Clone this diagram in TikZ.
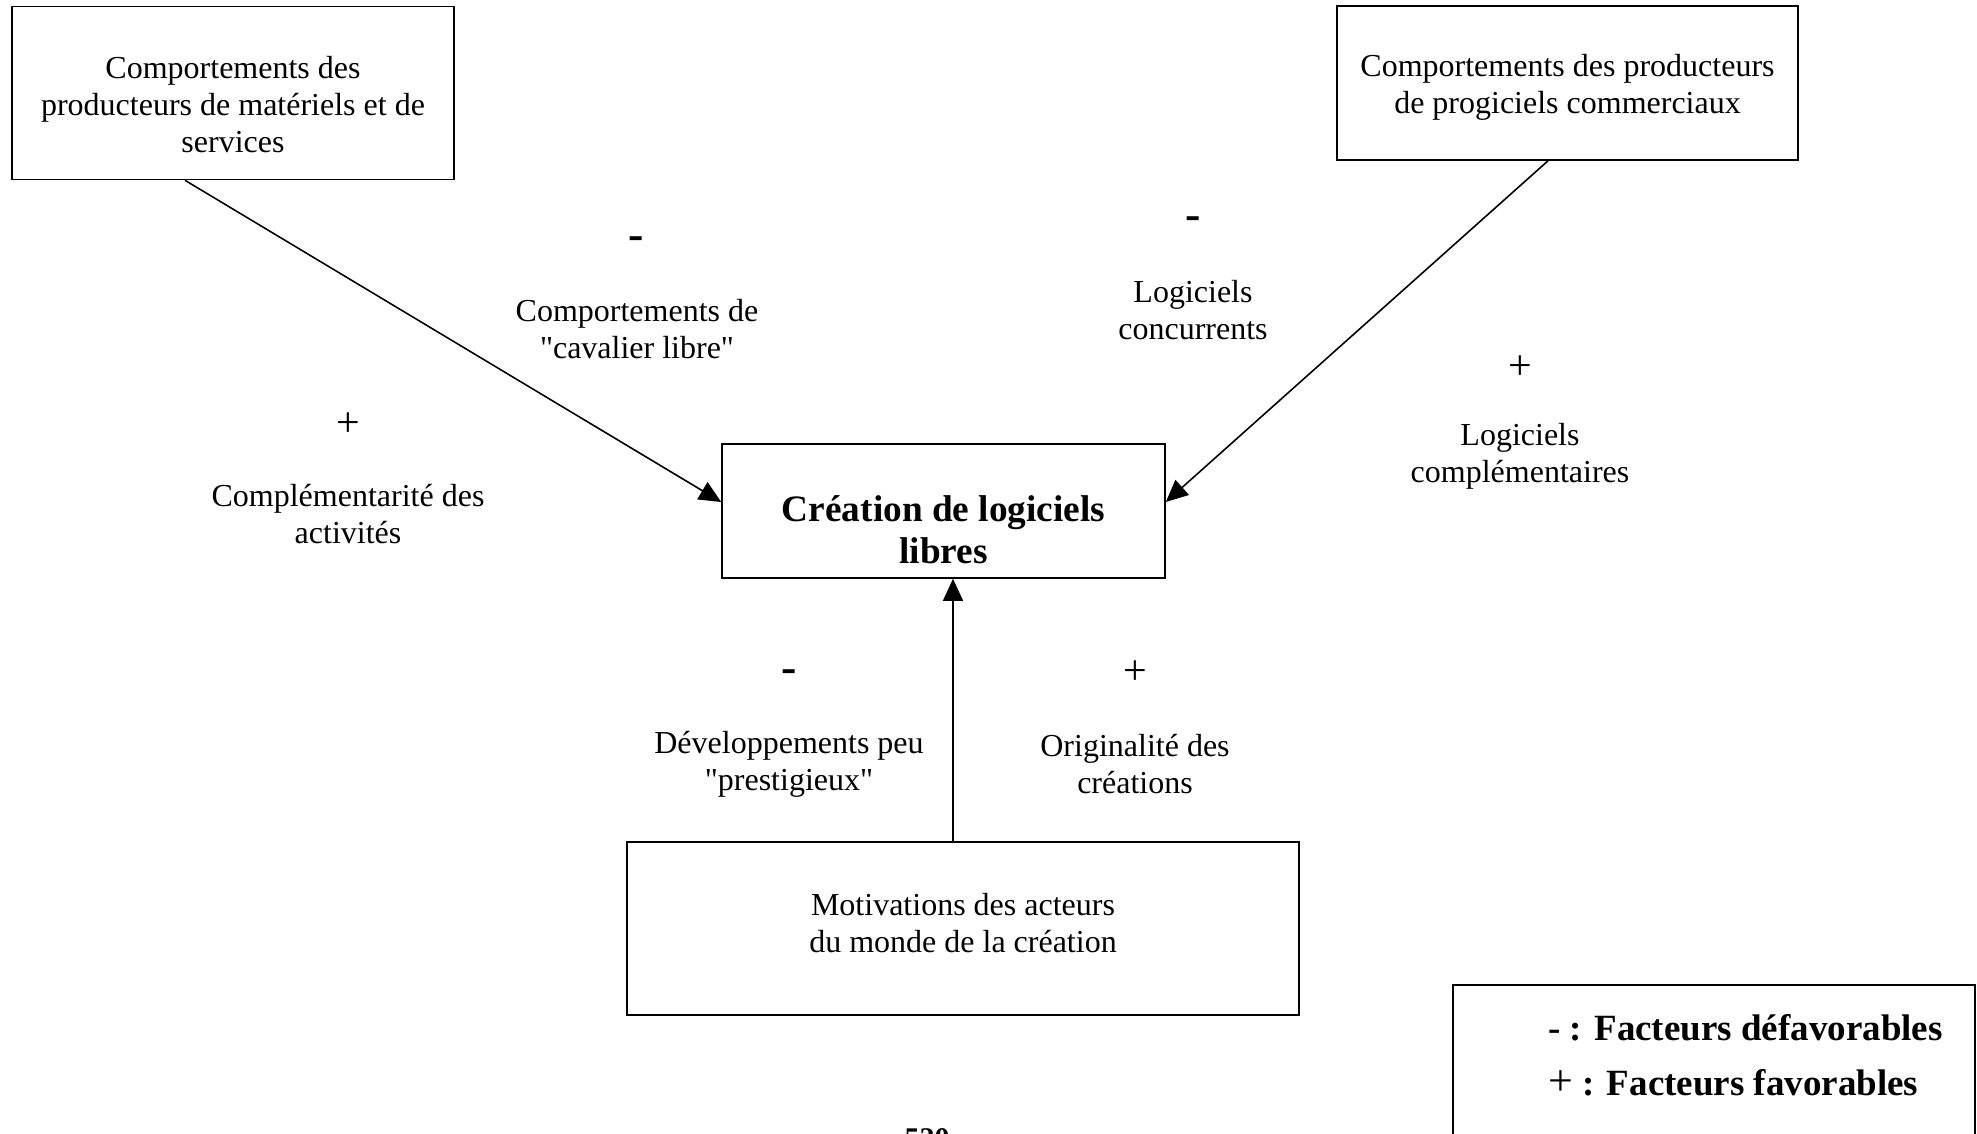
\documentclass[tikz,border=0pt]{standalone}
\usepackage{fontspec}
\setmainfont{Liberation Serif}
\usetikzlibrary{arrows.meta}
\begin{document}
\begin{tikzpicture}[x=1pt,y=-1pt,
  box/.style={draw,line width=1.6pt,inner sep=0pt},
  txt/.style={align=center,inner sep=0pt,font=\fontsize{32}{37}\selectfont},
  boldtxt/.style={align=center,inner sep=0pt,font=\fontsize{37.3}{42}\selectfont\bfseries},
  minus/.style={inner sep=0pt,font=\fontsize{46}{46}\selectfont\bfseries},
  plus/.style={inner sep=0pt,font=\fontsize{42}{42}\selectfont},
  arr/.style={line width=1.6pt,-{Triangle[length=22pt,width=20pt]}},
  legend/.style={inner sep=0pt,font=\fontsize{37}{37}\selectfont\bfseries}]
\useasboundingbox (0,0) rectangle (1977,1134);
\begin{scope}
\clip (0,0) rectangle (1977,1134);

% boxes
\node[box,minimum width=442pt,minimum height=173pt] (b1) at (233,93) {};
\node[txt] (t1) at (233,105) {Comportements des\\producteurs de matériels et de\\services};

\node[box,minimum width=461pt,minimum height=154pt] (b2) at (1567.5,83) {};
\node[txt] (t2) at (1567.5,87) {Comportements des producteurs\\de progiciels commerciaux};

\node[box,minimum width=443pt,minimum height=134pt] (c) at (943.5,511) {};
\node[boldtxt] (tc) at (943.5,530) {Création de logiciels\\libres};

\node[box,minimum width=672pt,minimum height=173pt] (b3) at (963,928.5) {};
\node[txt] (t3) at (963,923) {Motivations des acteurs\\du monde de la création};

% connectors
\draw[arr] ([xshift=-48pt]b1.south) -- ([yshift=9pt]c.west);
\draw[arr] ([xshift=-19.5pt]b2.south) -- ([yshift=9pt]c.east);
\draw[arr] ([xshift=-10pt]b3.north) -- ([xshift=9.5pt]c.south);

% factor labels
\node[minus] (m1) at (636,243) {-};
\node[txt] (l1) at (637,329) {Comportements de\\\textquotedbl cavalier libre\textquotedbl};
\node[plus] (p1) at (348,425) {+};
\node[txt] (l2) at (348,514) {Complémentarité des\\activités};

\node[minus] (m2) at (1193,223) {-};
\node[txt] (l3) at (1193,310) {Logiciels\\concurrents};
\node[plus] (p2) at (1520,368) {+};
\node[txt] (l4) at (1520,456) {Logiciels\\complémentaires};

\node[minus] (m3) at (789,676) {-};
\node[txt] (l5) at (789,764) {Développements peu\\\textquotedbl prestigieux\textquotedbl};
\node[plus] (p3) at (1135,673) {+};
\node[txt] (l6) at (1135,764) {Originalité des\\créations};

% legend
\draw[line width=1.6pt] (1453,1150) |- (1975,985) -- (1975,1150);
\node[legend,anchor=base west] (lg1) at (1548,1040) {- : Facteurs défavorables};
\node[legend,anchor=base west] (lg2) at (1548,1095) {{\fontsize{44}{44}\selectfont\mdseries+} : Facteurs favorables};

% page number at the lower edge
\node[inner sep=0pt,font=\fontsize{30}{30}\selectfont\bfseries,anchor=north] (pg) at (927,1128) {520};
\end{scope}
\end{tikzpicture}
\end{document}
